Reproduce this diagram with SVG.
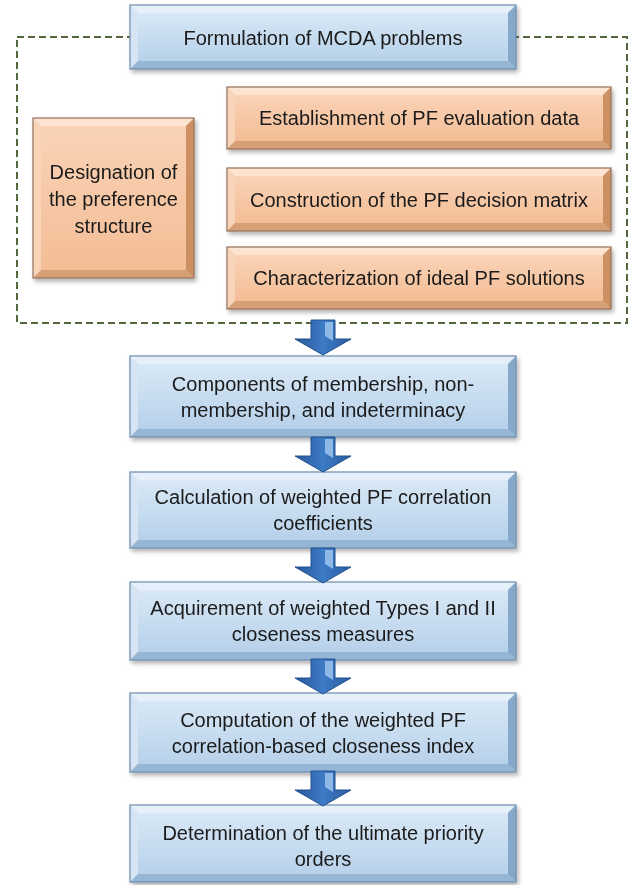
<svg xmlns="http://www.w3.org/2000/svg" width="630" height="885" viewBox="0 0 630 885">
<defs>
<style>
.t{font-family:"Liberation Sans",Arial,sans-serif;font-size:20px;fill:#1a1a1a;text-anchor:middle}
.bt{fill:#e6f0fa}.bl{fill:#d5e5f4}.br{fill:#86a8ca}.bb{fill:#96b6d5}.bf{fill:url(#gb)}
.bo{fill:none;stroke:#6d8cab;stroke-width:1.2}
.ot{fill:#fde4d0}.ol{fill:#f8d4b8}.or{fill:#cc9063}.ob{fill:#d79f76}.of{fill:url(#go)}
.oo{fill:none;stroke:#94705a;stroke-width:1.2}
.sh{filter:url(#ds)}
.frame{fill:none;stroke:#52693f;stroke-width:2;stroke-dasharray:7 4}
</style>
<linearGradient id="gb" x1="0" y1="0" x2="0" y2="1"><stop offset="0" stop-color="#d8e8f6"/><stop offset="1" stop-color="#b7d1ea"/></linearGradient>
<linearGradient id="go" x1="0" y1="0" x2="0" y2="1"><stop offset="0" stop-color="#fad3b6"/><stop offset="1" stop-color="#f3bd96"/></linearGradient>
<linearGradient id="ga" x1="0" y1="0" x2="1" y2="0"><stop offset="0" stop-color="#28579a"/><stop offset="0.5" stop-color="#3d7bc6"/><stop offset="1" stop-color="#2a5ca1"/></linearGradient>
<filter id="ds" x="-5%" y="-10%" width="112%" height="130%"><feDropShadow dx="2" dy="3" stdDeviation="2" flood-color="#000" flood-opacity="0.3"/></filter>
<g id="arrow">
<path d="M-12,0 H12 V19 H28 L0,35 L-28,19 H-12 Z" fill="url(#ga)" stroke="#22508e" stroke-width="1"/>
<path d="M2,2 H10 V21 L2,16 Z" fill="#9cc6ee" opacity="0.85"/>
</g>
</defs>
<rect width="630" height="885" fill="#fff"/>
<rect class="frame" x="17" y="37" width="610" height="286"/>

<g id="n-formulation" class="sh">
<polygon class="bt" points="130,5 516,5 508,13 138,13"/>
<polygon class="bl" points="130,5 138,13 138,61 130,69"/>
<polygon class="br" points="516,5 516,69 508,61 508,13"/>
<polygon class="bb" points="130,69 516,69 508,61 138,61"/>
<rect class="bf" x="138" y="13" width="370" height="48"/>
<rect class="bo" x="130" y="5" width="386" height="64"/>
<text class="t" x="323" y="45">Formulation of MCDA problems</text>
</g>

<g id="n-designation" class="sh">
<polygon class="ot" points="33,118 194,118 186,126 41,126"/>
<polygon class="ol" points="33,118 41,126 41,270 33,278"/>
<polygon class="or" points="194,118 194,278 186,270 186,126"/>
<polygon class="ob" points="33,278 194,278 186,270 41,270"/>
<rect class="of" x="41" y="126" width="145" height="144"/>
<rect class="oo" x="33" y="118" width="161" height="160"/>
<text class="t" x="113.5" y="179">Designation of</text>
<text class="t" x="113.5" y="206">the preference</text>
<text class="t" x="113.5" y="233">structure</text>
</g>

<g id="n-establishment" class="sh">
<polygon class="ot" points="227,87 611,87 603,95 235,95"/>
<polygon class="ol" points="227,87 235,95 235,141 227,149"/>
<polygon class="or" points="611,87 611,149 603,141 603,95"/>
<polygon class="ob" points="227,149 611,149 603,141 235,141"/>
<rect class="of" x="235" y="95" width="368" height="46"/>
<rect class="oo" x="227" y="87" width="384" height="62"/>
<text class="t" x="419" y="125">Establishment of PF evaluation data</text>
</g>

<g id="n-construction" class="sh">
<polygon class="ot" points="227,168 611,168 603,176 235,176"/>
<polygon class="ol" points="227,168 235,176 235,223 227,231"/>
<polygon class="or" points="611,168 611,231 603,223 603,176"/>
<polygon class="ob" points="227,231 611,231 603,223 235,223"/>
<rect class="of" x="235" y="176" width="368" height="47"/>
<rect class="oo" x="227" y="168" width="384" height="63"/>
<text class="t" x="419" y="207">Construction of the PF decision matrix</text>
</g>

<g id="n-characterization" class="sh">
<polygon class="ot" points="227,247 611,247 603,255 235,255"/>
<polygon class="ol" points="227,247 235,255 235,301 227,309"/>
<polygon class="or" points="611,247 611,309 603,301 603,255"/>
<polygon class="ob" points="227,309 611,309 603,301 235,301"/>
<rect class="of" x="235" y="255" width="368" height="46"/>
<rect class="oo" x="227" y="247" width="384" height="62"/>
<text class="t" x="419" y="285">Characterization of ideal PF solutions</text>
</g>

<g id="n-components" class="sh">
<polygon class="bt" points="130,356 516,356 508,364 138,364"/>
<polygon class="bl" points="130,356 138,364 138,429 130,437"/>
<polygon class="br" points="516,356 516,437 508,429 508,364"/>
<polygon class="bb" points="130,437 516,437 508,429 138,429"/>
<rect class="bf" x="138" y="364" width="370" height="65"/>
<rect class="bo" x="130" y="356" width="386" height="81"/>
<text class="t" x="323" y="391">Components of membership, non-</text>
<text class="t" x="323" y="417">membership, and indeterminacy</text>
</g>

<g id="n-calculation" class="sh">
<polygon class="bt" points="130,472 516,472 508,480 138,480"/>
<polygon class="bl" points="130,472 138,480 138,540 130,548"/>
<polygon class="br" points="516,472 516,548 508,540 508,480"/>
<polygon class="bb" points="130,548 516,548 508,540 138,540"/>
<rect class="bf" x="138" y="480" width="370" height="60"/>
<rect class="bo" x="130" y="472" width="386" height="76"/>
<text class="t" x="323" y="504">Calculation of weighted PF correlation</text>
<text class="t" x="323" y="530">coefficients</text>
</g>

<g id="n-acquirement" class="sh">
<polygon class="bt" points="130,582 516,582 508,590 138,590"/>
<polygon class="bl" points="130,582 138,590 138,652 130,660"/>
<polygon class="br" points="516,582 516,660 508,652 508,590"/>
<polygon class="bb" points="130,660 516,660 508,652 138,652"/>
<rect class="bf" x="138" y="590" width="370" height="62"/>
<rect class="bo" x="130" y="582" width="386" height="78"/>
<text class="t" x="323" y="615">Acquirement of weighted Types I and II</text>
<text class="t" x="323" y="641">closeness measures</text>
</g>

<g id="n-computation" class="sh">
<polygon class="bt" points="130,693 516,693 508,701 138,701"/>
<polygon class="bl" points="130,693 138,701 138,764 130,772"/>
<polygon class="br" points="516,693 516,772 508,764 508,701"/>
<polygon class="bb" points="130,772 516,772 508,764 138,764"/>
<rect class="bf" x="138" y="701" width="370" height="63"/>
<rect class="bo" x="130" y="693" width="386" height="79"/>
<text class="t" x="323" y="727">Computation of the weighted PF</text>
<text class="t" x="323" y="753">correlation-based closeness index</text>
</g>

<g id="n-determination" class="sh">
<polygon class="bt" points="130,805 516,805 508,813 138,813"/>
<polygon class="bl" points="130,805 138,813 138,874 130,882"/>
<polygon class="br" points="516,805 516,882 508,874 508,813"/>
<polygon class="bb" points="130,882 516,882 508,874 138,874"/>
<rect class="bf" x="138" y="813" width="370" height="61"/>
<rect class="bo" x="130" y="805" width="386" height="77"/>
<text class="t" x="323" y="840">Determination of the ultimate priority</text>
<text class="t" x="323" y="866">orders</text>
</g>

<g id="connectors">
<use href="#arrow" transform="translate(323,320)"/>
<use href="#arrow" transform="translate(323,437)"/>
<use href="#arrow" transform="translate(323,548)"/>
<use href="#arrow" transform="translate(323,659)"/>
<use href="#arrow" transform="translate(323,771)"/>
</g>
</svg>
